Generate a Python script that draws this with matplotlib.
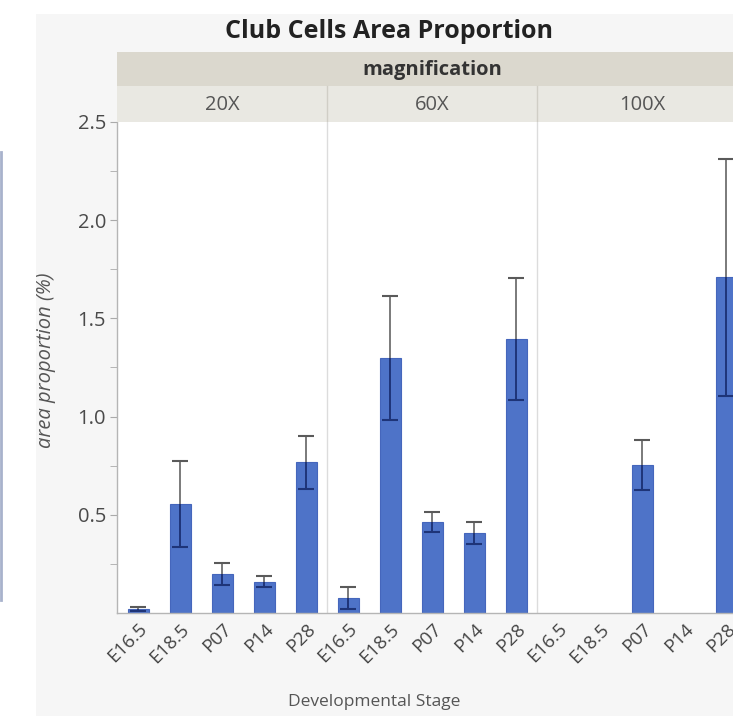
#!/usr/bin/env python3
"""Club cells area proportion by developmental stage, faceted by magnification (JMP style)."""
import numpy as np
import matplotlib
matplotlib.use("Agg")
import matplotlib.pyplot as plt
from matplotlib.patches import Rectangle
from matplotlib.lines import Line2D

plt.rcParams.update({
    "font.family": ["Open Sans", "DejaVu Sans"],
})

MAGS = ["20X", "60X", "100X"]
STAGES = ["E16.5", "E18.5", "P07", "P14", "P28"]
MEAN_20X = [0.02, 0.555, 0.198, 0.158, 0.768]
ERR_20X = [0.01, 0.22, 0.055, 0.028, 0.135]
MEAN_60X = [0.076, 1.30, 0.463, 0.407, 1.394]
ERR_60X = [0.055, 0.315, 0.05, 0.055, 0.31]
MEAN_100X = [np.nan, np.nan, 0.753, np.nan, 1.709]
ERR_100X = [np.nan, np.nan, 0.127, np.nan, 0.605]

W, H = 733, 716
fig = plt.figure(figsize=(W / 100, H / 100), dpi=100)
fig.patch.set_facecolor("white")


def fx(px):
    return px / W


def fy(py):
    return 1 - py / H


# gray frame of the report and a sliver of a neighbouring graph
fig.patches.append(Rectangle((fx(36), 0), 1, fy(14), transform=fig.transFigure,
                             facecolor="#f6f6f6", edgecolor="none", zorder=-5))
fig.lines.append(Line2D([fx(1), fx(1)], [fy(152), fy(600)], transform=fig.transFigure,
                        color="#a8b2cc", lw=2, zorder=-4))

left, right = 117, 747
top, bottom = 122, 613
ax = fig.add_axes([fx(left), fy(bottom), fx(right - left), fy(top) - fy(bottom)])
ax.set_facecolor("white")

means = MEAN_20X + MEAN_60X + MEAN_100X
errs = ERR_20X + ERR_60X + ERR_100X
labels = STAGES * len(MAGS)
x = np.arange(len(means))
means = np.array(means)
errs = np.array(errs)

ax.bar(x, means, width=0.5, color="#4e73c8", edgecolor="#4566bc", lw=0.8, zorder=2)
# upper half of the error bar in gray, lower half (inside the bar) in navy
ax.vlines(x, means, means + errs, color="#7a7a7a", lw=1.4, zorder=3)
ax.vlines(x, means - errs, means, color="#1e3478", lw=1.4, zorder=4)
ax.plot(x, means + errs, ls="none", marker="_", ms=11, mew=1.5, color="#5a5a5a", zorder=5)
ax.plot(x, means - errs, ls="none", marker="_", ms=11, mew=1.5, color="#1e3478", zorder=5)

for b in (4.5, 9.5):
    ax.axvline(b, color="#dcdcdc", lw=1, zorder=1)

ax.set_xlim(-0.5, len(means) - 0.5)
ax.set_ylim(0, 2.5)
ax.set_yticks([0.5, 1.0, 1.5, 2.0, 2.5])
ax.set_yticks(np.arange(0.25, 2.5, 0.5), minor=True)
ax.set_yticklabels(["0.5", "1.0", "1.5", "2.0", "2.5"], fontsize=14.5, color="#4a4a4a")
ax.set_xticks(x)
ax.set_xticklabels(labels, rotation=45, ha="right", rotation_mode="anchor",
                   fontsize=13.5, color="#444444")
ax.tick_params(axis="y", which="both", direction="out", length=5, color="#aaaaaa", pad=3)
ax.tick_params(axis="x", length=0, pad=5)
for s in ("top", "right"):
    ax.spines[s].set_visible(False)
for s in ("left", "bottom"):
    ax.spines[s].set_color("#b5b5b5")
    ax.spines[s].set_linewidth(1)

# facet header bands
hb = fig.add_axes([fx(left), fy(top), fx(right - left), fy(52) - fy(top)])
hb.set_xlim(-0.5, len(means) - 0.5)
hb.set_ylim(0, 2)
hb.axis("off")
hb.add_patch(Rectangle((-0.5, 1.03), len(means), 0.97, facecolor="#dbd8ce", edgecolor="none"))
hb.add_patch(Rectangle((-0.5, 0), len(means), 1.03, facecolor="#e9e8e2", edgecolor="none"))
hb.text((len(means) - 1) / 2, 1.5, "magnification", ha="center", va="center",
        fontsize=14.5, fontweight="bold", color="#333333")
for i, m in enumerate(MAGS):
    hb.text(i * 5 + 2, 0.5, m, ha="center", va="center", fontsize=14.5, color="#555555")
for b in (4.5, 9.5):
    hb.plot([b, b], [0, 1.03], color="#d0cec6", lw=1)

fig.text(fx(389), fy(32), "Club Cells Area Proportion", ha="center", va="center",
         fontsize=18, fontweight="bold", color="#222222")
fig.text(fx(46), fy(360), "area proportion (%)", ha="center", va="center",
         rotation=90, fontsize=14.5, style="italic", color="#555555")
fig.text(fx(374), fy(702), "Developmental Stage", ha="center", va="center",
         fontsize=12.5, color="#555555")

fig.savefig("out.png", dpi=100)
